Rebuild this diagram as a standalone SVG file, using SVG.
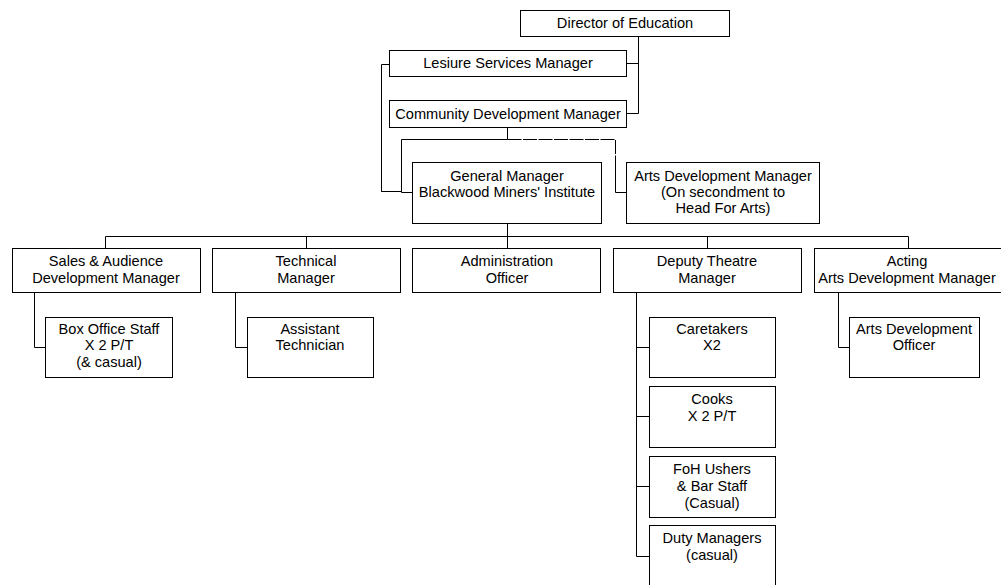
<svg xmlns="http://www.w3.org/2000/svg" width="1001" height="585" viewBox="0 0 1001 585">
<style>
.box{fill:#fff;stroke:#000;stroke-width:1}
.t{font-family:"Liberation Sans",Arial,sans-serif;font-size:14.6px;fill:#000;text-anchor:middle}
.c{fill:none;stroke:#000;stroke-width:1}
.d{fill:none;stroke:#000;stroke-width:1;stroke-dasharray:14 1.5}
</style>
<rect width="1001" height="585" fill="#fff"/>
<g id="connectors">
<path class="c" d="M638.5,36 V113.5 H627 M627,63.5 H638.5"/>
<path class="c" d="M389,64.5 H381.5 V191.5 H400"/>
<path class="d" d="M381.5,191.5 H402"/>
<path class="c" d="M507.5,127 V139.5 M401.5,139.5 H507.5 M401.5,139.5 V192.5 H412"/>
<path class="d" d="M507.5,139.5 H615.5 V160"/>
<path class="c" d="M615.5,160 V192.5 H626"/>
<path class="c" d="M507.5,223 V236.5 M105.5,236.5 H908.5 M105.5,236.5 V248 M306.5,236.5 V248 M507.5,236.5 V248 M707.5,236.5 V248 M908.5,236.5 V248"/>
<path class="c" d="M34.5,292 V347.5 H45"/>
<path class="c" d="M235.5,292 V347.5 H247"/>
<path class="c" d="M636.5,292 V556.5 H649 M636.5,347.5 H649 M636.5,416.5 H649 M636.5,486.5 H649"/>
<path class="c" d="M838.5,292 V347.5 H849"/>
</g>
<g id="director"><rect class="box" x="520.5" y="10.5" width="209" height="26"/><text class="t" x="625" y="28">Director of Education</text></g>
<g id="lesiure"><rect class="box" x="389.5" y="50.5" width="237" height="26"/><text class="t" x="508" y="68">Lesiure Services Manager</text></g>
<g id="community"><rect class="box" x="389.5" y="100.5" width="237" height="27"/><text class="t" x="508" y="119">Community Development Manager</text></g>
<g id="general"><rect class="box" x="412.5" y="162.5" width="189" height="61"/><text class="t" x="507" y="181">General Manager</text><text class="t" x="507" y="197">Blackwood Miners' Institute</text></g>
<g id="artsdev"><rect class="box" x="626.5" y="162.5" width="193" height="61"/><text class="t" x="723" y="181">Arts Development Manager</text><text class="t" x="723" y="197">(On secondment to</text><text class="t" x="723" y="213">Head For Arts)</text></g>
<g id="sales"><rect class="box" x="12.5" y="248.5" width="188" height="44"/><text class="t" x="106" y="266">Sales &amp; Audience</text><text class="t" x="106" y="283">Development Manager</text></g>
<g id="technical"><rect class="box" x="212.5" y="248.5" width="188" height="44"/><text class="t" x="306" y="266">Technical</text><text class="t" x="306" y="283">Manager</text></g>
<g id="admin"><rect class="box" x="412.5" y="248.5" width="188" height="44"/><text class="t" x="507" y="266">Administration</text><text class="t" x="507" y="283">Officer</text></g>
<g id="deputy"><rect class="box" x="613.5" y="248.5" width="188" height="44"/><text class="t" x="707" y="266">Deputy Theatre</text><text class="t" x="707" y="283">Manager</text></g>
<g id="acting"><rect class="box" x="814.5" y="248.5" width="188" height="44"/><text class="t" x="907" y="266">Acting</text><text class="t" x="907" y="283">Arts Development Manager</text></g>
<g id="boxoffice"><rect class="box" x="45.5" y="317.5" width="127" height="60"/><text class="t" x="109" y="334">Box Office Staff</text><text class="t" x="109" y="350">X 2 P/T</text><text class="t" x="109" y="367">(&amp; casual)</text></g>
<g id="assistant"><rect class="box" x="247.5" y="317.5" width="126" height="60"/><text class="t" x="310" y="334">Assistant</text><text class="t" x="310" y="350">Technician</text></g>
<g id="caretakers"><rect class="box" x="649.5" y="317.5" width="126" height="60"/><text class="t" x="712" y="334">Caretakers</text><text class="t" x="712" y="350">X2</text></g>
<g id="cooks"><rect class="box" x="649.5" y="386.5" width="126" height="61"/><text class="t" x="712" y="404">Cooks</text><text class="t" x="712" y="421">X 2 P/T</text></g>
<g id="foh"><rect class="box" x="649.5" y="456.5" width="126" height="61"/><text class="t" x="712" y="474">FoH Ushers</text><text class="t" x="712" y="491">&amp; Bar Staff</text><text class="t" x="712" y="508">(Casual)</text></g>
<g id="duty"><rect class="box" x="649.5" y="525.5" width="126" height="70"/><text class="t" x="712" y="543">Duty Managers</text><text class="t" x="712" y="560">(casual)</text></g>
<g id="artsofficer"><rect class="box" x="849.5" y="317.5" width="130" height="60"/><text class="t" x="914" y="334">Arts Development</text><text class="t" x="914" y="350">Officer</text></g>
</svg>
